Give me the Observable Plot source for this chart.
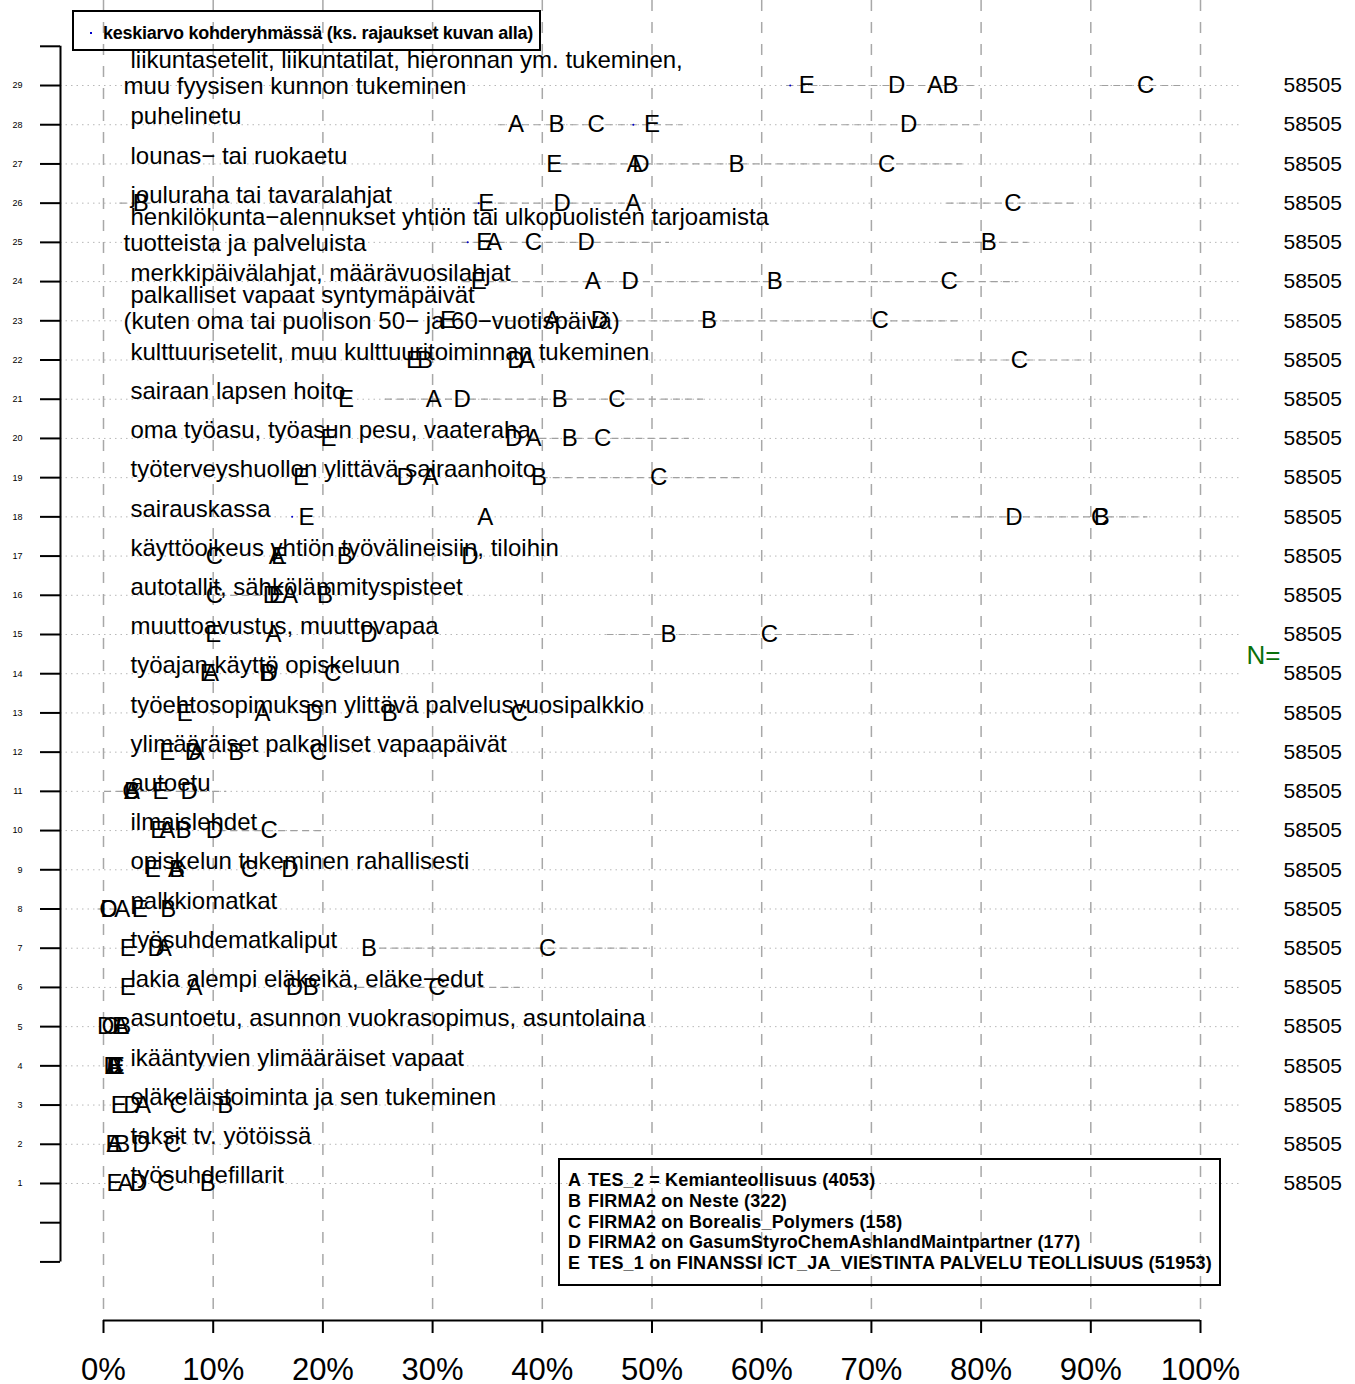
<!DOCTYPE html>
<html><head><meta charset="utf-8">
<script src="https://cdn.jsdelivr.net/npm/d3@7"></script>
<script src="https://cdn.jsdelivr.net/npm/@observablehq/plot@0.6"></script>
<style>
body{margin:0;background:#fff;font-family:"Liberation Sans",Arial,sans-serif;}
#wrap{position:relative;width:1355px;height:1384px;}
svg text{white-space:pre;}
.box{position:absolute;border:2px solid #000;box-sizing:border-box;font-family:"Liberation Sans",Arial,sans-serif;font-weight:bold;color:#000;}
.ln{position:absolute;white-space:pre;font-size:18px;line-height:18px;}
</style></head><body><div id="wrap"></div>
<script>
// ---- data (rows 1..29, bottom to top) ----
const rowLabels = [
 "työsuhdefillarit",
 "taksit tv. yötöissä",
 "eläkeläistoiminta ja sen tukeminen",
 "ikääntyvien ylimääräiset vapaat",
 "asuntoetu, asunnon vuokrasopimus, asuntolaina",
 "lakia alempi eläkeikä, eläke\u2212edut",
 "työsuhdematkaliput",
 "palkkiomatkat",
 "opiskelun tukeminen rahallisesti",
 "ilmaislehdet",
 "autoetu",
 "ylimääräiset palkalliset vapaapäivät",
 "työehtosopimuksen ylittävä palvelusvuosipalkkio",
 "työajan käyttö opiskeluun",
 "muuttoavustus, muuttovapaa",
 "autotallit, sähkölämmityspisteet",
 "käyttöoikeus yhtiön työvälineisiin, tiloihin",
 "sairauskassa",
 "työterveyshuollon ylittävä sairaanhoito",
 "oma työasu, työasun pesu, vaateraha",
 "sairaan lapsen hoito",
 "kulttuurisetelit, muu kulttuuritoiminnan tukeminen",
 "palkalliset vapaat syntymäpäivät\n(kuten oma tai puolison 50\u2212 ja 60\u2212vuotispäivä)",
 "merkkipäivälahjat, määrävuosilahjat",
 "henkilökunta\u2212alennukset yhtiön tai ulkopuolisten tarjoamista\ntuotteista ja palveluista",
 "jouluraha tai tavaralahjat",
 "lounas\u2212 tai ruokaetu",
 "puhelinetu",
 "liikuntasetelit, liikuntatilat, hieronnan ym. tukeminen,\nmuu fyysisen kunnon tukeminen"
];
const groupLetters = ["A","B","C","D","E"];
const valA = [2.0,1.0,3.6,0.9,1.6,8.3,5.5,1.7,6.6,5.8,2.6,8.5,14.5,9.8,15.5,17.0,15.8,34.8,29.8,39.2,30.1,38.6,40.9,44.6,35.6,48.3,48.4,37.6,75.8];
const valB = [9.5,1.7,11.1,1.0,1.8,18.9,24.2,5.9,6.7,7.3,2.6,12.1,26.1,14.9,51.5,20.2,22.0,91.0,39.7,42.5,41.6,29.3,55.2,61.2,80.7,3.4,57.7,41.3,77.2];
const valC = [5.7,6.3,6.8,1.1,0.6,30.4,40.5,0.4,13.3,15.1,2.5,19.6,37.9,20.9,60.7,10.1,10.1,90.8,50.6,45.5,46.8,83.5,70.8,77.1,39.2,82.9,71.4,44.9,95.0];
const valD = [3.2,3.4,2.6,0.8,0.2,17.4,4.8,0.5,17.0,10.1,7.8,8.2,19.2,15.1,24.2,15.3,33.4,83.0,27.5,37.4,32.7,37.6,45.2,48.0,44.0,41.8,49.0,73.4,72.3];
const valE = [1.0,0.9,1.4,1.2,1.5,2.2,2.2,3.3,4.5,5.0,5.2,5.8,7.4,9.5,10.0,15.8,16.0,18.5,18.0,20.5,22.1,28.3,31.4,34.2,34.7,34.9,41.1,50.0,64.1];
const nValues = Array(29).fill(58505);
// visible dashed interval segments: row, low, high (%)
const segRow = [29,29,28,28,27,26,26,26,25,25,24,23,22,21,20,19,18,16,15,11,10,8,7,6];
const segLo  = [62.3,91.0,36.0,65.2,40.6,1.5,33.8,76.9,32.7,76.2,32.8,30.2,77.6,25.7,37.6,39.9,77.3,10.5,45.9,0.1,10.5,-0.5,25.2,21.0];
const segHi  = [79.5,98.6,52.8,79.8,78.3,4.8,49.5,88.9,51.6,84.3,83.3,78.1,89.5,54.7,53.4,58.4,95.2,14.5,68.6,11.2,20.3,1.5,49.6,38.0];
// mean in target group (visible points)
const meanRow = [29,28,26,25,23,18];
const meanVal = [62.6,48.3,34.2,33.2,30.4,17.2];
const xTicks = [0,10,20,30,40,50,60,70,80,90,100];
const yTicks = d3.range(-1,31);
const legendItems = [
 "TES_2 = Kemianteollisuus (4053)",
 "FIRMA2 on Neste (322)",
 "FIRMA2 on Borealis_Polymers (158)",
 "FIRMA2 on GasumStyroChemAshlandMaintpartner (177)",
 "TES_1 on FINANSSI ICT_JA_VIESTINTA PALVELU TEOLLISUUS (51953)"
];
const topLegend = "keskiarvo kohderyhmässä (ks. rajaukset kuvan alla)";

// ---- build tables ----
const rows = d3.range(1,30);
const vals = [valA,valB,valC,valD,valE];
const letters = [];
vals.forEach((arr,g)=>arr.forEach((v,i)=>letters.push({row:i+1,x:v,t:groupLetters[g]})));
const segs = segRow.map((r,i)=>({row:r,lo:segLo[i],hi:segHi[i]}));
const means = meanRow.map((r,i)=>({row:r,x:meanVal[i]}));
const single=[], first=[], second=[];
rowLabels.forEach((s,i)=>{const p=s.split("\n"); if(p.length===1) single.push({row:i+1,t:p[0]}); else {first.push({row:i+1,t:p[0]}); second.push({row:i+1,t:p[1]});}});

const xDomain=[-3.92,100], yDomain=[-2.494,31.168];
const chart = Plot.plot({
  width:1355, height:1384,
  marginLeft:60, marginRight:155, marginTop:0, marginBottom:64,
  x:{domain:xDomain}, y:{domain:yDomain},
  style:{fontFamily:"Liberation Sans, Arial, sans-serif", background:"#fff", color:"#000", overflow:"visible"},
  marks:[
    Plot.ruleX(xTicks,{stroke:"#a8a8a8",strokeWidth:1.5,strokeDasharray:"11,11"}),
    Plot.ruleY(rows,{x1:xDomain[0],x2:103.6,stroke:"#b8b8b8",strokeWidth:1,strokeDasharray:"1.5,4"}),
    Plot.ruleY(segs,{y:"row",x1:"lo",x2:"hi",stroke:"#a0a0a0",strokeWidth:1.2,strokeDasharray:"7,5"}),
    Plot.dot(means,{x:"x",y:"row",r:1,fill:"#0000cc",stroke:null}),
    Plot.text(single,{x:0,y:"row",text:"t",textAnchor:"start",dx:27,dy:-8,fontSize:24}),
    Plot.text(first,{x:0,y:"row",text:"t",textAnchor:"start",dx:27,dy:-25,fontSize:24}),
    Plot.text(second,{x:0,y:"row",text:"t",textAnchor:"start",dx:20,dy:1,fontSize:24}),
    Plot.text(letters,{x:"x",y:"row",text:"t",fontSize:24}),
    Plot.text(rows,{y:d=>d,text:d=>String(nValues[d-1]),frameAnchor:"right",dx:83,textAnchor:"start",fontSize:21}),
    Plot.text(["N="],{frameAnchor:"right",dx:80,dy:-5,textAnchor:"end",fontSize:26,fill:"#0a700a"}),
    Plot.ruleX([xDomain[0]],{y1:-1,y2:30,strokeWidth:2}),
    Plot.axisY({ticks:yTicks,tickFormat:d=>(d>=1&&d<=29)?String(d):"",tickSize:20,tickPadding:18,fontSize:9,strokeWidth:2,label:null}),
    Plot.ruleY([yDomain[0]],{x1:0,x2:100,strokeWidth:2}),
    Plot.axisX({ticks:xTicks,tickFormat:d=>d+"%",tickSize:13,tickPadding:24,fontSize:31,strokeWidth:2,label:null})
  ]
});
const wrap=document.getElementById("wrap");
wrap.appendChild(chart);

// ---- legends ----
function fit(el,target){const w=el.getBoundingClientRect().width;const n=el.textContent.length;el.style.letterSpacing=((target-w)/n)+"px";}
const b1=document.createElement("div");b1.className="box";
Object.assign(b1.style,{left:"72px",top:"10px",width:"469px",height:"41px"});
wrap.appendChild(b1);
const dot=document.createElement("div");
Object.assign(dot.style,{position:"absolute",left:"16px",top:"20px",width:"2px",height:"2px",background:"#0000cc"});
b1.appendChild(dot);
const t1=document.createElement("span");t1.className="ln";t1.textContent=topLegend;
Object.assign(t1.style,{left:"29px",top:"12px"});
b1.appendChild(t1);
fit(t1,430);

const b2=document.createElement("div");b2.className="box";
Object.assign(b2.style,{left:"558px",top:"1158px",width:"663px",height:"128px"});
wrap.appendChild(b2);
const spans=[];
legendItems.forEach((s,i)=>{
  const L=document.createElement("span");L.className="ln";L.textContent=groupLetters[i];
  Object.assign(L.style,{left:"8px",top:(11+i*20.8)+"px"});b2.appendChild(L);
  const T=document.createElement("span");T.className="ln";T.textContent=s;
  Object.assign(T.style,{left:"28px",top:(11+i*20.8)+"px"});b2.appendChild(T);spans.push(T);
});
const last=spans[4];const w=last.getBoundingClientRect().width;const ls=(624-w)/last.textContent.length;
spans.forEach(s=>s.style.letterSpacing=ls+"px");
</script></body></html>
